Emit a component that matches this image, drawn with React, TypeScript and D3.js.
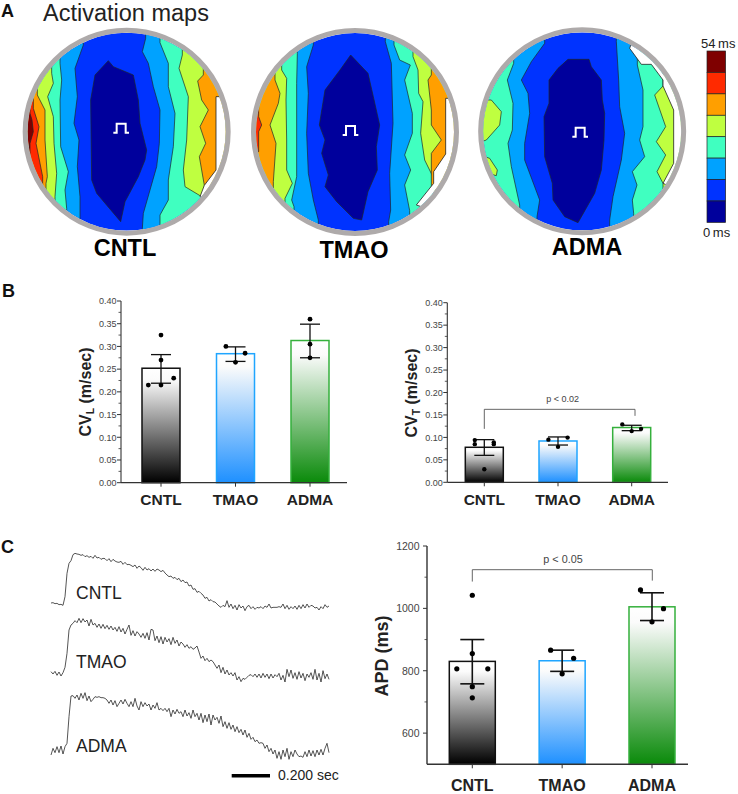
import React from "react";
import * as d3 from "d3";

type P = [number, number];

// ---------- activation map contours (units: 1/3 px) ----------
const levelColors = ["#00009c", "#0033ff", "#00a2ff", "#40ffc0", "#bfff40", "#ff9f00", "#ff2a00", "#7f0000"];
const Z2 = 1104;
const sh = (a: P[]): P[] => a.map(([x, y]) => [x + Z2, y] as P);

const cntlLeft: [number, P[]][] = [
  [2, [[250,135],[225,205],[232,290],[222,370],[237,420],[232,500],[240,590],[240,650]]],
  [3, [[180,190],[185,240],[180,300],[182,440],[205,515],[195,570],[200,625]]],
  [4, [[155,220],[160,250],[143,290],[160,350],[162,430],[170,520],[165,590]]],
  [5, [[112,285],[135,330],[135,420],[142,530],[138,550]]],
  [6, [[100,325],[117,380],[108,430],[128,530]]],
  [7, [[90,340],[96,360],[100,395],[90,430]]],
];
const cntlRight: [number, P[]][] = [
  [2, [[437,115],[427,155],[445,190],[460,260],[480,330],[478,430],[470,500],[450,570],[430,640],[427,685]]],
  [3, [[480,128],[505,190],[505,260],[525,340],[520,440],[505,540],[505,600],[480,645],[480,670]]],
  [4, [[547,165],[537,205],[565,290],[560,420],[550,510],[555,560],[600,587],[640,590]]],
  [5, [[610,225],[593,243],[605,300],[625,330],[600,380],[617,430],[598,470],[613,556]]],
];
const cntlBlank: P[] = [[648,290],[648,510],[613,556],[600,590],[700,640],[700,290]];
const cntlCore: P[] = [[325,182],[340,200],[400,225],[415,300],[420,370],[440,450],[435,480],[415,530],[375,605],[362,665],[290,580],[275,540],[272,300],[285,225]];

const tmaoLeft: [number, P[]][] = [
  [2, [[940,135],[920,200],[925,280],[920,400],[925,520],[940,600],[955,660]]],
  [3, [[892,160],[890,250],[890,420],[890,530],[875,600],[882,620]]],
  [4, [[845,210],[860,235],[858,300],[860,420],[860,510],[877,550],[855,595]]],
  [5, [[825,240],[840,280],[835,310],[810,375],[828,430],[820,545]]],
  [6, [[776,350],[785,375],[776,395]]],
];
const tmaoRight: [number, P[]][] = [
  [2, sh([[52,125],[70,190],[75,370],[65,520],[68,630],[62,665]])],
  [3, sh([[78,135],[95,180],[127,195],[110,240],[133,340],[133,400],[110,465],[128,510],[110,555],[125,632]])],
  [4, sh([[135,170],[150,210],[152,280],[165,305],[158,400],[170,480],[197,535]])],
  [5, sh([[190,225],[180,240],[190,330],[190,375],[220,420],[190,460],[190,510]])],
];
const tmaoBlank: P[] = sh([[233,295],[233,462],[197,515],[197,550],[145,615],[400,700],[400,295]]);
const tmaoCore: P[] = [[1052,165],[1104,220],[1120,290],[1139,375],[1129,440],[1132,510],[1104,575],[1085,660],[1060,655],[1010,605],[975,560],[985,525],[965,460],[975,420],[958,375],[975,270],[1020,210]];

const admaLeft: [number, P[]][] = [
  [2, sh([[530,130],[490,185],[460,240],[480,280],[485,340],[470,430],[470,480],[515,600],[507,650]])],
  [3, sh([[437,190],[418,240],[435,310],[433,390],[420,430],[430,500],[455,615]])],
];
const admaRight: [number, P[]][] = [
  [2, sh([[745,125],[752,240],[755,320],[770,400],[760,480],[735,590],[725,660]])],
  [3, sh([[808,195],[825,270],[825,380],[815,420],[830,470],[793,515],[807,555],[793,600],[797,640]])],
  [4, sh([[885,258],[860,285],[893,380],[865,425],[893,465],[867,515],[885,550]])],
];
const admaIslands: P[][] = [
  sh([[340,300],[370,300],[400,335],[395,375],[355,420],[340,425]]),
  sh([[350,470],[365,475],[388,510],[385,527],[360,520]]),
];
const admaBlank: P[] = sh([[785,145],[820,193],[850,193],[885,240],[885,258],[917,330],[917,490],[885,550],[1000,600],[1000,100],[800,100]]);
const admaCore: P[] = sh([[600,178],[663,178],[670,200],[700,240],[703,300],[710,340],[708,420],[700,510],[680,580],[630,668],[590,650],[555,600],[553,550],[530,470],[528,350],[543,310],[543,240],[570,205]]);

const mapCenters: P[] = [[380, 395], [1065, 396], [1746.5, 394]];
const mapRadius = 297;
const mapNames = ["CNTL", "TMAO", "ADMA"];
const pulseOrigins: P[] = [[340, 398], [1028, 405], [1717, 410]];
const pulseShape: P[] = [[0, 0], [10, 0], [10, -27], [37, -27], [37, 0], [47, 0]];

// ---------- bar data ----------
const groups = ["CNTL", "TMAO", "ADMA"];
const cvlMeans = [0.252, 0.284, 0.313];
const cvlLow = [0.219, 0.267, 0.275];
const cvlHigh = [0.282, 0.299, 0.349];
const cvlPoints = [[0.325, 0.27, 0.23, 0.215, 0.215], [0.30, 0.285, 0.265], [0.36, 0.305, 0.275]];
const cvlJitter = [[0, 0, 1, -1, 0], [-1, 1, 0], [0, 0, 0]];

const cvtMeans = [0.078, 0.092, 0.122];
const cvtLow = [0.06, 0.083, 0.115];
const cvtHigh = [0.095, 0.101, 0.127];
const cvtPoints = [[0.094, 0.085, 0.089, 0.085, 0.029], [0.095, 0.0995, 0.079], [0.129, 0.119, 0.114]];
const cvtJitter = [[-1, -1, 1, 1, 0], [-1, 1, 0], [-1, 1, 0]];

const apdMeans = [830, 832, 1005];
const apdLow = [758, 798, 961];
const apdHigh = [900, 866, 1050];
const apdPoints = [[1042, 855, 806, 806, 749, 713], [866, 840, 790], [1059, 999, 957]];
const apdJitter = [[0, 0, -1, 1, 0, 0], [-1, 1, 0], [-1, 1, 0]];

const barStroke = ["#111111", "#1fa5ff", "#35b03c"];
const barFill = ["#000000", "#1e90ff", "#0a8a0a"];

// ---------- optical traces (x step = 6 units, starts at 33) ----------
const traceCntl = [219,218,221,220,224,223,226,200,130,100,92,74,70,72,73,76,74,80,77,82,79,85,76,84,82,88,85,86,92,86,95,88,93,96,97,94,103,97,104,103,106,110,105,115,108,113,121,112,120,116,123,117,124,117,120,125,121,129,135,140,138,145,142,149,145,155,150,158,156,168,165,178,176,187,184,190,195,205,202,213,209,215,216,222,228,232,226,230,212,232,222,236,226,240,224,234,228,242,230,226,236,230,238,232,234,230,236,228,232,222,234,232,232,232,230,232,222,236,226,238,230,236,228,238,226,236,224,234,222,232,226,228,234,232,240,230,236,224,232,228];
const traceTmao = [425,432,424,436,426,438,428,412,370,300,285,280,272,278,265,278,266,276,270,288,268,285,280,292,282,295,283,296,286,298,288,300,292,304,290,306,295,312,298,285,316,302,318,305,312,322,310,325,308,330,298,300,332,318,338,320,342,322,336,326,344,322,340,330,348,336,342,352,344,355,350,358,354,348,366,385,378,392,385,395,390,395,405,415,405,428,412,432,420,435,428,438,428,450,440,455,445,448,442,436,434,440,432,442,432,444,430,442,432,446,432,444,434,440,430,450,436,456,418,440,420,445,428,448,425,444,430,452,432,442,428,448,418,450,430,456,422,446,432,448];
const traceAdma = [675,655,668,650,668,648,672,650,640,560,498,497,505,495,510,490,505,488,512,498,515,508,500,502,500,503,503,505,510,520,510,525,512,530,520,510,522,508,520,530,515,530,505,528,540,515,530,518,528,522,540,525,535,518,540,535,542,535,545,535,560,540,552,538,550,545,560,540,558,548,565,540,560,550,570,550,578,555,575,552,585,555,570,562,580,558,590,575,595,578,598,585,605,590,608,598,615,600,622,610,628,622,635,630,640,638,640,655,645,665,655,672,660,685,665,688,660,680,655,688,665,680,660,672,680,678,682,665,680,660,678,662,680,660,675,658,675,655,640,668];
const traceLabels = ["CNTL", "TMAO", "ADMA"];
const traceLabelBase = [207, 413, 665];
const traceOrigin: P = [120, 1590];

// ---------- helpers ----------
const fx = d3.scaleLinear().domain([0, 3]).range([0, 1]);
const fy = d3.scaleLinear().domain([0, 3]).range([0, 1]);
const poly = d3.line<P>().x((d) => fx(d[0])).y((d) => fy(d[1]));
const closed = (a: P[]) => (poly(a) || "") + "Z";
const FONT = "'Liberation Sans', Arial, sans-serif";
const contour = "#1c2a2a";

function band(pts: P[], farX: number): P[] {
  const a = pts[0];
  const b = pts[pts.length - 1];
  return [[a[0], a[1] - 60], ...pts, [b[0], b[1] + 60], [farX, b[1] + 60], [farX, a[1] - 60]];
}

function ActivationMap(props: {
  id: string; c: P; left: [number, P[]][]; right: [number, P[]][]; core: P[]; blank: P[]; islands?: P[][]; pulse: P;
}) {
  const { id, c, left, right, core, blank, islands, pulse } = props;
  const cx = fx(c[0]);
  const cy = fy(c[1]);
  const r = fx(mapRadius);
  const pulsePts = pulseShape.map(([x, y]) => [x + pulse[0], y + pulse[1]] as P);
  return (
    <g>
      <clipPath id={id}><circle cx={cx} cy={cy} r={r} /></clipPath>
      <g clipPath={`url(#${id})`}>
        <rect x={cx - r} y={cy - r} width={2 * r} height={2 * r} fill={levelColors[1]} />
        {left.map(([lvl, pts], i) => (
          <path key={"l" + i} d={closed(band(pts, c[0] - 400))} fill={levelColors[lvl]} stroke={contour} strokeWidth={0.7} />
        ))}
        {right.map(([lvl, pts], i) => (
          <path key={"r" + i} d={closed(band(pts, c[0] + 400))} fill={levelColors[lvl]} stroke={contour} strokeWidth={0.7} />
        ))}
        {(islands || []).map((pts, i) => (
          <path key={"i" + i} d={closed(pts)} fill={levelColors[4]} stroke={contour} strokeWidth={0.7} />
        ))}
        <path d={closed(blank)} fill="#ffffff" stroke="#222" strokeWidth={0.8} />
        <path d={closed(core)} fill={levelColors[0]} stroke={contour} strokeWidth={0.7} />
      </g>
      <circle cx={cx} cy={cy} r={r + 2.5} fill="none" stroke="#aeaaaa" strokeWidth={5} />
      <path d={poly(pulsePts) || ""} fill="none" stroke="#ffffff" strokeWidth={2} />
    </g>
  );
}

function Colorbar() {
  const y = d3.scaleBand<number>().domain([7, 6, 5, 4, 3, 2, 1, 0]).range([51, 222.4]);
  return (
    <g>
      {y.domain().map((l) => (
        <rect key={l} x={707} y={y(l)} width={18.6} height={y.bandwidth()} fill={levelColors[l]} stroke="#222" strokeWidth={0.7} />
      ))}
      <text x={701} y={47.5} fontSize={13} fontFamily={FONT} fill="#222" wordSpacing={-1}>54 ms</text>
      <text x={703} y={237} fontSize={13} fontFamily={FONT} fill="#222" wordSpacing={-1}>0 ms</text>
    </g>
  );
}

type BarProps = {
  id: string; axisX: number; axisEnd: number; top: number; bottom: number; domain: [number, number];
  major: number[]; minor: number[]; fmt: (v: number) => string; centers: [number, number]; barW: number;
  means: number[]; low: number[]; high: number[]; points: number[][]; jitter: number[][]; jitterPx: number[];
  capHalf: number; tickFont: number; tickGap: number; lineW: number; catFont: number; catBase: number; dotR: number;
  ylab: React.ReactNode; bracket?: { from: number; to: number; y0: number; yTop: number; y1: number; text: string; tx: number; ty: number; fs: number };
};

function BarChart(p: BarProps) {
  const y = d3.scaleLinear().domain(p.domain).range([p.bottom, p.top]);
  const x = d3.scalePoint<string>().domain(groups).range(p.centers);
  const ink = "#333333";
  return (
    <g fontFamily={FONT}>
      <defs>
        {groups.map((g, i) => (
          <linearGradient key={g} id={`${p.id}g${i}`} x1="0" y1="0" x2="0" y2="1">
            <stop offset="0" stopColor="#ffffff" />
            <stop offset="0.1" stopColor="#fbfbfb" />
            <stop offset="1" stopColor={barFill[i]} />
          </linearGradient>
        ))}
      </defs>
      {groups.map((g, i) => {
        const cx = x(g) as number;
        return (
          <g key={g}>
            <rect x={cx - p.barW / 2} y={y(p.means[i])} width={p.barW} height={p.bottom - y(p.means[i])} fill={`url(#${p.id}g${i})`} stroke={barStroke[i]} strokeWidth={1.5} />
          </g>
        );
      })}
      <line x1={p.axisX} x2={p.axisX} y1={p.top} y2={p.bottom} stroke={ink} strokeWidth={p.lineW} />
      <line x1={p.axisX} x2={p.axisEnd} y1={p.bottom} y2={p.bottom} stroke={ink} strokeWidth={p.lineW + 0.2} />
      {p.major.map((t) => (
        <g key={t}>
          <line x1={p.axisX - 4} x2={p.axisX} y1={y(t)} y2={y(t)} stroke={ink} strokeWidth={1} />
          <text x={p.axisX - p.tickGap} y={y(t) + p.tickFont * 0.36} textAnchor="end" fontSize={p.tickFont} fill="#444">{p.fmt(t)}</text>
        </g>
      ))}
      {p.minor.map((t) => (
        <line key={t} x1={p.axisX - 2.5} x2={p.axisX} y1={y(t)} y2={y(t)} stroke={ink} strokeWidth={0.8} />
      ))}
      {groups.map((g, i) => {
        const cx = x(g) as number;
        return (
          <g key={g}>
            <line x1={cx} x2={cx} y1={p.bottom} y2={p.bottom + 4} stroke={ink} strokeWidth={1} />
            <text x={cx} y={p.catBase} textAnchor="middle" fontSize={p.catFont} fontWeight="bold" fill="#222">{g}</text>
            <line x1={cx} x2={cx} y1={y(p.low[i])} y2={y(p.high[i])} stroke="#111" strokeWidth={p.lineW + 0.2} />
            <line x1={cx - p.capHalf} x2={cx + p.capHalf} y1={y(p.low[i])} y2={y(p.low[i])} stroke="#111" strokeWidth={p.lineW + 0.2} />
            <line x1={cx - p.capHalf} x2={cx + p.capHalf} y1={y(p.high[i])} y2={y(p.high[i])} stroke="#111" strokeWidth={p.lineW + 0.2} />
            {p.points[i].map((v, k) => (
              <circle key={k} cx={cx + p.jitter[i][k] * p.jitterPx[i]} cy={y(v)} r={p.dotR} fill="#000" />
            ))}
          </g>
        );
      })}
      {p.bracket && (
        <g>
          <path d={`M${p.bracket.from},${y(p.bracket.y0)}V${y(p.bracket.yTop)}H${p.bracket.to}V${y(p.bracket.y1)}`} fill="none" stroke="#555" strokeWidth={0.9} />
          <text x={p.bracket.tx} y={p.bracket.ty} textAnchor="middle" fontSize={p.bracket.fs} fill="#444">{p.bracket.text}</text>
        </g>
      )}
      {p.ylab}
    </g>
  );
}

function Trace({ values }: { values: number[] }) {
  const x = d3.scaleLinear().domain([0, values.length - 1]).range([fx(traceOrigin[0] + 33), fx(traceOrigin[0] + 33 + 6 * (values.length - 1))]);
  const line = d3.line<number>().x((_, i) => x(i)).y((d) => fy(d + traceOrigin[1]));
  return <path d={line(values) || ""} fill="none" stroke="#2a2a2a" strokeWidth={0.8} />;
}

const f2 = (v: number) => v.toFixed(2);
const cvTicks = d3.range(0, 9).map((i) => i * 0.05);
const cvMinor = d3.range(0, 8).map((i) => i * 0.05 + 0.025);

export default function App() {
  return (
    <svg width={738} height={794} style={{ position: "absolute", left: 0, top: 0, display: "block", background: "#fff" }}>
      <g fontFamily={FONT}>
        <text x={1} y={16.5} fontSize={18} fontWeight="bold" fill="#111">A</text>
        <text x={43} y={21.4} fontSize={23.5} fill="#222">Activation maps</text>
        <text x={2} y={296.5} fontSize={18} fontWeight="bold" fill="#111">B</text>
        <text x={1} y={552.5} fontSize={18} fontWeight="bold" fill="#111">C</text>
      </g>

      <ActivationMap id="m1" c={mapCenters[0]} left={cntlLeft} right={cntlRight} core={cntlCore} blank={cntlBlank} pulse={pulseOrigins[0]} />
      <ActivationMap id="m2" c={mapCenters[1]} left={tmaoLeft} right={tmaoRight} core={tmaoCore} blank={tmaoBlank} pulse={pulseOrigins[1]} />
      <ActivationMap id="m3" c={mapCenters[2]} left={admaLeft} right={admaRight} core={admaCore} blank={admaBlank} islands={admaIslands} pulse={pulseOrigins[2]} />
      <g fontFamily={FONT} fontWeight="bold" fontSize={23.5} fill="#000" textAnchor="middle">
        <text x={125} y={256}>{mapNames[0]}</text>
        <text x={354} y={258}>{mapNames[1]}</text>
        <text x={587} y={255}>{mapNames[2]}</text>
      </g>
      <Colorbar />

      <BarChart
        id="cvl" axisX={121} axisEnd={347} top={301} bottom={482.7} domain={[0, 0.4]} major={cvTicks} minor={cvMinor} fmt={f2}
        centers={[161, 310]} barW={38} means={cvlMeans} low={cvlLow} high={cvlHigh} points={cvlPoints} jitter={cvlJitter}
        jitterPx={[12.7, 9.6, 0]} capHalf={10} tickFont={9} tickGap={4.5} lineW={1.1} catFont={15.5} catBase={505} dotR={2.4}
        ylab={
          <text transform="translate(91,392) rotate(-90)" textAnchor="middle" fontSize={16} fontWeight="bold" fill="#222">
            CV<tspan fontSize={10.5} dy={3}>L</tspan><tspan dy={-3}> (m/sec)</tspan>
          </text>
        }
      />
      <BarChart
        id="cvt" axisX={447.3} axisEnd={668} top={302.7} bottom={482.3} domain={[0, 0.4]} major={cvTicks} minor={cvMinor} fmt={f2}
        centers={[484.3, 631.7]} barW={38} means={cvtMeans} low={cvtLow} high={cvtHigh} points={cvtPoints} jitter={cvtJitter}
        jitterPx={[9.5, 9.6, 9.4]} capHalf={10} tickFont={9} tickGap={4.5} lineW={1.1} catFont={15.5} catBase={505} dotR={2.2}
        bracket={{ from: 484.3, to: 635, y0: 0.119, yTop: 0.1625, y1: 0.148, text: "p < 0.02", tx: 562.7, ty: 401.5, fs: 9 }}
        ylab={
          <text transform="translate(417,393) rotate(-90)" textAnchor="middle" fontSize={16} fontWeight="bold" fill="#222">
            CV<tspan fontSize={10.5} dy={3}>T</tspan><tspan dy={-3}> (m/sec)</tspan>
          </text>
        }
      />

      {[traceCntl, traceTmao, traceAdma].map((t, i) => <Trace key={i} values={t} />)}
      <g fontFamily={FONT} fontSize={17.5} fill="#222">
        {traceLabels.map((l, i) => (
          <text key={l} x={76} y={530 + traceLabelBase[i] / 3}>{l}</text>
        ))}
      </g>
      <line x1={231.7} x2={270} y1={775.7} y2={775.7} stroke="#000" strokeWidth={3.5} />
      <text x={278} y={779.5} fontFamily={FONT} fontSize={14} fill="#222">0.200 sec</text>

      <BarChart
        id="apd" axisX={427} axisEnd={688} top={546} bottom={764.3} domain={[500, 1200]} major={[600, 800, 1000, 1200]} minor={[700, 900, 1100]}
        fmt={(v) => String(v)} centers={[472.3, 652]} barW={46} means={apdMeans} low={apdLow} high={apdHigh} points={apdPoints} jitter={apdJitter}
        jitterPx={[15.5, 11.5, 11.5]} capHalf={12} tickFont={10.5} tickGap={7.5} lineW={1.4} catFont={16} catBase={791} dotR={2.6}
        bracket={{ from: 472.3, to: 652.3, y0: 1086, yTop: 1124, y1: 1089, text: "p < 0.05", tx: 563, ty: 562.5, fs: 10.8 }}
        ylab={<text transform="translate(388,656) rotate(-90)" textAnchor="middle" fontSize={18} fontWeight="bold" fill="#222">APD (ms)</text>}
      />
    </svg>
  );
}
